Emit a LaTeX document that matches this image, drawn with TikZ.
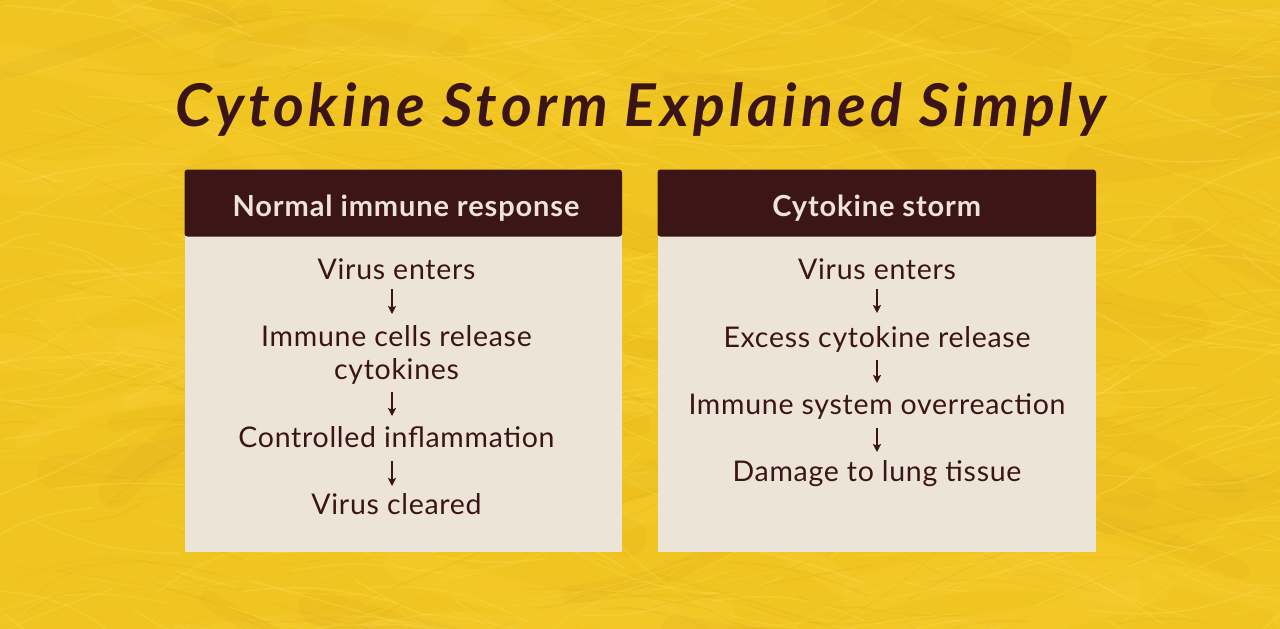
\documentclass[tikz,border=0pt]{standalone}
\usepackage{fontspec}
\setmainfont{Lato}
\newfontfamily\titlefont[LetterSpace=7]{Lato}
\newfontfamily\hdrfont[LetterSpace=3]{Lato}
\newfontfamily\bodyfont[LetterSpace=2.5]{Lato}
\usetikzlibrary{arrows.meta}
\definecolor{bgY}{HTML}{F1C521}
\definecolor{furL}{HTML}{FCDE55}
\definecolor{furD}{HTML}{CF9F1A}
\definecolor{ink}{HTML}{3B1515}
\definecolor{hdrc}{HTML}{3C1616}
\definecolor{hdrtxt}{HTML}{EEE4D6}
\definecolor{bodyc}{HTML}{EDE4D8}
\tikzset{
  txt/.style={font=\bodyfont\fontsize{28.5}{33}\selectfont, text=ink, inner sep=0pt, anchor=base, align=center},
  hdrtext/.style={font=\hdrfont\fontsize{29}{34}\selectfont\bfseries, text=hdrtxt, inner sep=0pt, anchor=base},
  flow/.style={draw=ink, line width=1.3pt, -{Stealth[length=8pt,width=8pt,inset=1.5pt]}},
}
\begin{document}
\begin{tikzpicture}[x=1pt,y=-1pt]
\useasboundingbox (0,0) rectangle (1280,629);
\fill[bgY] (0,0) rectangle (1280,629);
\begin{scope}
\clip (0,0) rectangle (1280,629);
\pgfmathsetseed{7}
\foreach \i in {1,...,60}{
  \pgfmathsetmacro\px{rnd*1400-60}
  \pgfmathsetmacro\py{rnd*700-40}
  \pgfmathsetmacro\ang{rand*25}
  \pgfmathsetmacro\len{150+rnd*250}
  \pgfmathsetmacro\bend{rand*25}
  \pgfmathsetmacro\lw{15+rnd*25}
  \pgfmathtruncatemacro\kind{mod(\i,2)}
  \ifnum\kind=0 \def\col{furL}\else\def\col{furD}\fi
  \draw[draw=\col, line width=\lw pt, opacity=0.11, line cap=round] (\px,\py) .. controls +(\ang+\bend:\len*0.4) and +(\ang+180-\bend:\len*0.4) .. +(\ang:\len);
}
\foreach \i in {1,...,900}{
  \pgfmathsetmacro\px{rnd*1400-60}
  \pgfmathsetmacro\py{rnd*700-40}
  \pgfmathsetmacro\ang{rand*30}
  \pgfmathsetmacro\len{50+rnd*170}
  \pgfmathsetmacro\bend{rand*20}
  \pgfmathsetmacro\lw{0.5+rnd*1.3}
  \pgfmathtruncatemacro\kind{mod(\i,3)}
  \ifnum\kind=0 \def\col{furD}\def\op{0.14}\else\def\col{furL}\def\op{0.30}\fi
  \draw[draw=\col, line width=\lw pt, opacity=\op, line cap=round] (\px,\py) .. controls +(\ang+\bend:\len*0.4) and +(\ang+180-\bend:\len*0.4) .. +(\ang:\len);
}
\end{scope}

\node[font=\titlefont\fontsize{59}{64}\selectfont\bfseries\itshape, text=ink, inner sep=0pt, anchor=base] (title) at (640.5,126) {Cytokine Storm Explained Simply};

% panels
\fill[bodyc] (184.5,236) rectangle (622,551.5);
\fill[hdrc, rounded corners=3pt] (184.5,169.5) rectangle (622,236.5);
\fill[bodyc] (657.5,236) rectangle (1096,551.5);
\fill[hdrc, rounded corners=3pt] (657.5,169.5) rectangle (1096,236.5);

\node[hdrtext] (h1) at (406,216) {Normal immune response};
\node[hdrtext] (h2) at (876.75,216) {Cytokine storm};

% left flow (a multi-line node's base is its last line)
\node[txt] (l1) at (396.5,279) {Virus enters};
\node[txt] (l2) at (396.5,379) {Immune cells release\\cytokines};
\node[txt] (l3) at (396.5,447) {Controlled inflammation};
\node[txt] (l4) at (396.5,514) {Virus cleared};
\draw[flow] ([xshift=-4.5pt,yshift=-10pt]l1.base) -- ([xshift=-4.5pt,yshift=65pt]l2.base);
\draw[flow] ([xshift=-4.5pt,yshift=-13pt]l2.base) -- ([xshift=-4.5pt,yshift=31pt]l3.base);
\draw[flow] ([xshift=-4.5pt,yshift=-14pt]l3.base) -- ([xshift=-4.5pt,yshift=28pt]l4.base);

% right flow
\node[txt] (r1) at (877,279) {Virus enters};
\node[txt] (r2) at (877,347) {Excess cytokine release};
\node[txt] (r3) at (877,414) {Immune system overreaction};
\node[txt] (r4) at (877,481) {Damage to lung tissue};
\draw[flow] ([yshift=-10pt]r1.base) -- ([yshift=34pt]r2.base);
\draw[flow] ([yshift=-13pt]r2.base) -- ([yshift=31pt]r3.base);
\draw[flow] ([yshift=-14pt]r3.base) -- ([yshift=29pt]r4.base);
\end{tikzpicture}
\end{document}
